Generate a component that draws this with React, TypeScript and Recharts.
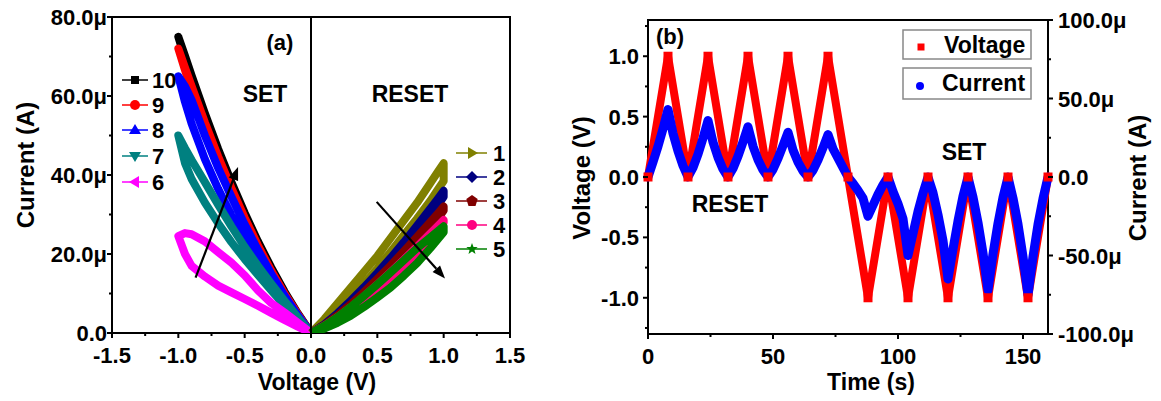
import React from 'react';
import { LineChart, Line, XAxis, YAxis, ReferenceLine, ReferenceArea } from 'recharts';

const FONT = '"Liberation Sans", Arial, Helvetica, sans-serif';

// ---------- Panel (a): I-V sweeps ----------
const sweepGrid = [0, 0.1, 0.2, 0.3, 0.4, 0.5, 0.6, 0.7, 0.8, 0.9, 0.95, 1.0];

// SET cycles (negative voltage), current magnitude in µA
const c10Fwd = [0, 4.3, 9.5, 15.5, 22, 29, 36.8, 45.2, 54.3, 64.2, 69.5, 75];
const c10Ret = [0, 5, 10.5, 16.6, 23.2, 30.4, 38.2, 46.6, 55.6, 65.2, 70.2, 75];
const c9Fwd = [0, 4, 9, 14.8, 21, 27.7, 35, 43, 51.8, 61.5, 66.6, 72];
const c9Ret = [0, 4.8, 10, 15.8, 22.2, 29.2, 36.7, 44.7, 53.3, 62.5, 67.2, 72];
const c8Fwd = [0, 3.5, 7.8, 12.5, 17.8, 23.5, 29.8, 36.5, 44, 53, 58.5, 65];
const c8Ret = [0, 4.5, 9.5, 15, 21, 27.5, 34.5, 41.8, 50, 59, 62.5, 65];
const c7Fwd = [0, 3.4, 7, 10.8, 14.7, 18.7, 23, 27.8, 33, 39, 43, 50];
const c7Ret = [0, 4, 8.2, 12.5, 17, 21.8, 27, 32.5, 38.2, 43.8, 46.8, 50];
const c6Fwd = [0, 1.6, 3.3, 5.1, 6.9, 8.6, 10.3, 12, 14.3, 17, 20, 24.5];
const c6Ret = [0, 2.6, 5.2, 7.6, 10.8, 14.6, 17.8, 20.5, 23.2, 25, 25.3, 24.5];

// RESET cycles (positive voltage)
const c1Fwd = [0, 3.5, 7.5, 11.5, 15.5, 19.5, 24, 28.5, 33, 38, 40.5, 43];
const c1Ret = [0, 2.5, 5.5, 8.8, 12.4, 16.3, 20.5, 24.8, 29, 33.5, 36, 38.5];
const c2Fwd = [0, 2.2, 5, 8.2, 11.6, 15.2, 19, 23, 27.2, 31.5, 33.7, 36];
const c2Ret = [0, 1.9, 4.2, 6.9, 10, 13.4, 17, 20.8, 25, 29.5, 32, 34.5];
const c3Fwd = [0, 2, 4.5, 7.3, 10.4, 13.7, 17.1, 20.7, 24.4, 28.1, 30, 32];
const c3Ret = [0, 1.6, 3.6, 6, 8.7, 11.7, 14.9, 18.4, 22.2, 26.3, 28.6, 31];
const c4Fwd = [0, 1.8, 4, 6.5, 9.3, 12.3, 15.4, 18.6, 21.9, 25.2, 26.9, 28.6];
const c4Ret = [0, 1.3, 3, 5, 7.3, 9.9, 12.8, 16, 19.5, 23.5, 25.7, 28];
const c5Fwd = [0, 1.8, 4, 6.6, 9.4, 12.3, 15.3, 18.4, 21.5, 24.2, 25.6, 27];
const c5Ret = [0, 1.1, 2.6, 4.4, 6.6, 9, 11.5, 14.5, 17.7, 21.5, 23.5, 25.5];

const X_A_TICKS = [-1.5, -1.25, -1, -0.75, -0.5, -0.25, 0, 0.25, 0.5, 0.75, 1, 1.25, 1.5];
const X_A_MAJOR = [-1.5, -1, -0.5, 0, 0.5, 1, 1.5];
const Y_A_TICKS = [0, 10, 20, 30, 40, 50, 60, 70, 80];
const Y_A_MAJOR = [0, 20, 40, 60, 80];

// ---------- Panel (b): time traces ----------
const voltTime = [0, 8, 16, 24, 32, 40, 48, 56, 64, 72, 80, 88, 96, 104, 112, 120, 128, 136, 144, 152, 160];
const voltValues = [0, 1, 0, 1, 0, 1, 0, 1, 0, 1, 0, -1, 0, -1, 0, -1, 0, -1, 0, -1, 0];
const currTime = [
  0, 2, 4, 6, 8, 10, 12, 14, 16, 18, 20, 22, 24, 26, 28, 30, 32, 34, 36, 38, 40,
  42, 44, 46, 48, 50, 52, 54, 56, 58, 60, 62, 64, 66, 68, 70, 72, 74, 76, 78, 80,
  82, 84, 86, 88, 90, 92, 94, 96, 98, 100, 102, 104, 106, 108, 110, 112, 114, 116, 118, 120,
  122, 124, 126, 128, 130, 132, 134, 136, 138, 140, 142, 144, 146, 148, 150, 152, 154, 156, 158, 160,
];
const currValues = [
  0, 9.5, 19.5, 30.7, 43, 27.7, 16.5, 7.2, 0,
  6, 14.5, 24.7, 36, 22.2, 12.5, 5, 0,
  5.4, 13.2, 22.3, 32, 19.6, 11, 4.5, 0,
  4.8, 11.8, 20, 28.5, 17.2, 9.5, 3.8, 0,
  4.3, 10.8, 18.6, 27, 18, 12, 6, 0,
  -4, -8.5, -13.5, -25, -18, -11, -5, 0,
  -9.2, -17, -26.5, -50, -36, -22, -10.2, 0,
  -10, -24, -40.5, -65, -46, -28, -12.2, 0,
  -12.8, -29, -48.5, -72, -49, -29.5, -13, 0,
  -13.5, -30, -50.7, -75, -50.7, -30.2, -13.7, 0,
];

const X_B_TICKS = [0, 25, 50, 75, 100, 125, 150];
const X_B_MAJOR = [0, 50, 100, 150];
const YL_B_TICKS = [-1.25, -1, -0.75, -0.5, -0.25, 0, 0.25, 0.5, 0.75, 1, 1.25];
const YL_B_MAJOR = [-1, -0.5, 0, 0.5, 1];
const YR_B_TICKS = [-100, -75, -50, -25, 0, 25, 50, 75, 100];
const YR_B_MAJOR = [-100, -50, 0, 50, 100];

// ---------- helpers ----------
function buildLoop(fwd: number[], ret: number[], sign: number) {
  const out = sweepGrid.map((g, k) => ({ v: sign * g, i: fwd[k] }));
  for (let k = sweepGrid.length - 1; k >= 0; k--) out.push({ v: sign * sweepGrid[k], i: ret[k] });
  return out;
}

const curves = [
  { name: '10', data: buildLoop(c10Fwd, c10Ret, -1), color: '#000000', shape: 'square' },
  { name: '9', data: buildLoop(c9Fwd, c9Ret, -1), color: '#ff0000', shape: 'circle' },
  { name: '8', data: buildLoop(c8Fwd, c8Ret, -1), color: '#0000ff', shape: 'up' },
  { name: '7', data: buildLoop(c7Fwd, c7Ret, -1), color: '#008080', shape: 'down' },
  { name: '6', data: buildLoop(c6Fwd, c6Ret, -1), color: '#ff00ff', shape: 'left' },
  { name: '1', data: buildLoop(c1Fwd, c1Ret, 1), color: '#808000', shape: 'right' },
  { name: '2', data: buildLoop(c2Fwd, c2Ret, 1), color: '#000080', shape: 'diamond' },
  { name: '3', data: buildLoop(c3Fwd, c3Ret, 1), color: '#800000', shape: 'pentagon' },
  { name: '4', data: buildLoop(c4Fwd, c4Ret, 1), color: '#ff0080', shape: 'circle' },
  { name: '5', data: buildLoop(c5Fwd, c5Ret, 1), color: '#008000', shape: 'star' },
];

const voltData = voltTime.map((t, k) => ({ t, v: voltValues[k] }));
const currData = currTime.map((t, k) => ({ t, c: currValues[k] }));

const isIn = (arr: number[], v: number) => arr.some((m) => Math.abs(m - v) < 1e-6);
const fmt1 = (v: number) => (Math.abs(v) < 1e-9 ? '0.0' : v.toFixed(1));
const fmtMicro = (v: number) => (Math.abs(v) < 1e-9 ? '0.0' : `${v.toFixed(1)}μ`);
const fmtInt = (v: number) => `${Math.round(v)}`;

const txt = { fontFamily: FONT, fontWeight: 'bold' as const, fill: '#000' };

function makeTick(orient: 'bottom' | 'left' | 'right', majors: number[], fmt: (v: number) => string, gap: number) {
  return (props: any) => {
    const { x, y, payload } = props;
    const v = payload.value;
    const major = isIn(majors, v);
    const len = major ? 5 : 3;
    if (orient === 'bottom') {
      return (
        <g>
          <line x1={x} x2={x} y1={y} y2={y + len} stroke="#000" strokeWidth={2} />
          {major && (
            <text x={x} y={y + 30} textAnchor="middle" fontSize={22} {...txt}>
              {fmt(v)}
            </text>
          )}
        </g>
      );
    }
    if (orient === 'left') {
      return (
        <g>
          <line x1={x} x2={x - len} y1={y} y2={y} stroke="#000" strokeWidth={2} />
          {major && (
            <text x={x - gap} y={y + 8} textAnchor="end" fontSize={22} {...txt}>
              {fmt(v)}
            </text>
          )}
        </g>
      );
    }
    return (
      <g>
        <line x1={x} x2={x + len} y1={y} y2={y} stroke="#000" strokeWidth={2} />
        {major && (
          <text x={x + gap} y={y + 8} textAnchor="start" fontSize={22} {...txt}>
            {fmt(v)}
          </text>
        )}
      </g>
    );
  };
}

const Arrow = (props: any) => {
  const { x1, y1, x2, y2 } = props;
  const ang = Math.atan2(y2 - y1, x2 - x1);
  const L = 13;
  const W = 5;
  const bx = x2 - L * Math.cos(ang);
  const by = y2 - L * Math.sin(ang);
  const px = -Math.sin(ang) * W;
  const py = Math.cos(ang) * W;
  return (
    <g>
      <line x1={x1} y1={y1} x2={bx} y2={by} stroke="#000" strokeWidth={2.2} />
      <polygon points={`${x2},${y2} ${bx + px},${by + py} ${bx - px},${by - py}`} fill="#000" />
    </g>
  );
};

const SquareDot = (p: any) => (
  <rect key={`sq-${p.index}`} x={p.cx - 4.5} y={p.cy - 4.5} width={9} height={9} fill="#ff0000" />
);

function Marker({ shape, x, y, color }: { shape: string; x: number; y: number; color: string }) {
  const pts = (arr: number[][]) => arr.map(([a, b]) => `${x + a},${y + b}`).join(' ');
  switch (shape) {
    case 'square':
      return <rect x={x - 4} y={y - 4} width={8} height={8} fill={color} />;
    case 'circle':
      return <circle cx={x} cy={y} r={5} fill={color} />;
    case 'up':
      return <polygon points={pts([[0, -6], [6, 4], [-6, 4]])} fill={color} />;
    case 'down':
      return <polygon points={pts([[0, 6], [6, -4], [-6, -4]])} fill={color} />;
    case 'left':
      return <polygon points={pts([[-6, 0], [4, -6], [4, 6]])} fill={color} />;
    case 'right':
      return <polygon points={pts([[6, 0], [-4, -6], [-4, 6]])} fill={color} />;
    case 'diamond':
      return <polygon points={pts([[0, -6], [6, 0], [0, 6], [-6, 0]])} fill={color} />;
    case 'pentagon':
      return <polygon points={pts([[0, -6], [5.7, -1.9], [3.5, 4.9], [-3.5, 4.9], [-5.7, -1.9]])} fill={color} />;
    case 'star':
      return (
        <polygon
          points={pts([[0, -6], [1.5, -2], [5.7, -1.9], [2.4, 0.8], [3.5, 4.9], [0, 2.5], [-3.5, 4.9], [-2.4, 0.8], [-5.7, -1.9], [-1.5, -2]])}
          fill={color}
        />
      );
    default:
      return null;
  }
}

const legendLeftY = [80, 105, 130, 156, 182];
const legendRightY = [153, 177, 201, 225, 249];

function PanelA() {
  return (
    <LineChart width={545} height={401} margin={{ top: 17, right: 35, bottom: 0, left: 0 }}>
      <XAxis
        xAxisId="b"
        dataKey="v"
        type="number"
        domain={[-1.5, 1.5]}
        ticks={X_A_TICKS}
        interval={0}
        allowDataOverflow
        height={68}
        tickSize={0}
        tickMargin={0}
        tickLine={false}
        axisLine={false}
        tick={makeTick('bottom', X_A_MAJOR, fmt1, 0)}
      />
      <YAxis
        yAxisId="l"
        type="number"
        domain={[0, 80]}
        ticks={Y_A_TICKS}
        interval={0}
        allowDataOverflow
        width={112}
        tickSize={0}
        tickMargin={0}
        tickLine={false}
        axisLine={false}
        tick={makeTick('left', Y_A_MAJOR, fmtMicro, 5)}
      />
      {curves.map((c) => (
        <Line
          key={c.name}
          xAxisId="b"
          yAxisId="l"
          data={c.data}
          dataKey="i"
          type="linear"
          stroke={c.color}
          strokeWidth={8}
          strokeLinejoin="round"
          dot={false}
          activeDot={false}
          isAnimationActive={false}
        />
      ))}
      <ReferenceLine xAxisId="b" yAxisId="l" x={0} stroke="#000" strokeWidth={2} />
      <ReferenceLine
        xAxisId="b"
        yAxisId="l"
        segment={[{ x: -0.87, y: 14 }, { x: -0.55, y: 42 }]}
        shape={Arrow}
      />
      <ReferenceLine
        xAxisId="b"
        yAxisId="l"
        segment={[{ x: 0.495, y: 33.2 }, { x: 1.01, y: 13.8 }]}
        shape={Arrow}
      />
      <ReferenceArea
        xAxisId="b"
        yAxisId="l"
        x1={-1.5}
        x2={1.5}
        y1={0}
        y2={80}
        fill="none"
        fillOpacity={0}
        stroke="#000"
        strokeWidth={2}
        ifOverflow="visible"
      />
    </LineChart>
  );
}

function PanelB() {
  return (
    <LineChart width={601} height={401} margin={{ top: 20, right: 0, bottom: 0, left: 0 }}>
      <XAxis
        xAxisId="t"
        dataKey="t"
        type="number"
        domain={[0, 160]}
        ticks={X_B_TICKS}
        interval={0}
        height={67}
        tickSize={0}
        tickMargin={0}
        tickLine={false}
        axisLine={false}
        tick={makeTick('bottom', X_B_MAJOR, fmtInt, 0)}
      />
      <YAxis
        yAxisId="v"
        type="number"
        domain={[-1.3, 1.3]}
        ticks={YL_B_TICKS}
        interval={0}
        width={88}
        tickSize={0}
        tickMargin={0}
        tickLine={false}
        axisLine={false}
        tick={makeTick('left', YL_B_MAJOR, fmt1, 9)}
      />
      <YAxis
        yAxisId="c"
        orientation="right"
        type="number"
        domain={[-100, 100]}
        ticks={YR_B_TICKS}
        interval={0}
        width={113}
        tickSize={0}
        tickMargin={0}
        tickLine={false}
        axisLine={false}
        tick={makeTick('right', YR_B_MAJOR, fmtMicro, 10)}
      />
      <Line
        xAxisId="t"
        yAxisId="v"
        data={voltData}
        dataKey="v"
        type="linear"
        stroke="#ff0000"
        strokeWidth={8}
        strokeLinejoin="bevel"
        dot={SquareDot}
        activeDot={false}
        isAnimationActive={false}
      />
      <Line
        xAxisId="t"
        yAxisId="c"
        data={currData}
        dataKey="c"
        type="linear"
        stroke="#0000ff"
        strokeWidth={9}
        strokeLinejoin="round"
        strokeLinecap="round"
        dot={false}
        activeDot={false}
        isAnimationActive={false}
      />
      <ReferenceArea
        xAxisId="t"
        yAxisId="v"
        x1={0}
        x2={160}
        y1={-1.3}
        y2={1.3}
        fill="none"
        fillOpacity={0}
        stroke="#000"
        strokeWidth={2}
        ifOverflow="visible"
      />
    </LineChart>
  );
}

function Overlay() {
  return (
    <svg width={1161} height={401} style={{ position: 'absolute', left: 0, top: 0, pointerEvents: 'none' }}>
      {/* Panel (a) texts */}
      <text transform="translate(34,165) rotate(-90)" textAnchor="middle" fontSize={24} {...txt}>
        Current (A)
      </text>
      <text x={317} y={390} textAnchor="middle" fontSize={23} {...txt}>
        Voltage (V)
      </text>
      <text x={280} y={50} textAnchor="middle" fontSize={22} {...txt}>
        (a)
      </text>
      <text x={265} y={102} textAnchor="middle" fontSize={23} {...txt}>
        SET
      </text>
      <text x={410} y={102} textAnchor="middle" fontSize={23} {...txt}>
        RESET
      </text>
      {curves.slice(0, 5).map((c, k) => (
        <g key={`la-${c.name}`}>
          <line x1={122} x2={148} y1={legendLeftY[k]} y2={legendLeftY[k]} stroke={c.color} strokeWidth={1.5} />
          <Marker shape={c.shape} x={135} y={legendLeftY[k]} color={c.color} />
          <text x={152} y={legendLeftY[k] + 8} fontSize={22} {...txt}>
            {c.name}
          </text>
        </g>
      ))}
      {curves.slice(5).map((c, k) => (
        <g key={`lb-${c.name}`}>
          <line x1={456} x2={487} y1={legendRightY[k]} y2={legendRightY[k]} stroke={c.color} strokeWidth={1.5} />
          <Marker shape={c.shape} x={472} y={legendRightY[k]} color={c.color} />
          <text x={493} y={legendRightY[k] + 8} fontSize={22} {...txt}>
            {c.name}
          </text>
        </g>
      ))}

      {/* Panel (b) texts */}
      <text transform="translate(590,178) rotate(-90)" textAnchor="middle" fontSize={24} {...txt}>
        Voltage (V)
      </text>
      <text transform="translate(1146,178) rotate(-90)" textAnchor="middle" fontSize={24} {...txt}>
        Current (A)
      </text>
      <text x={871} y={390} textAnchor="middle" fontSize={23} {...txt}>
        Time (s)
      </text>
      <text x={670} y={44} textAnchor="middle" fontSize={22} {...txt}>
        (b)
      </text>
      <text x={964} y={160} textAnchor="middle" fontSize={23} {...txt}>
        SET
      </text>
      <text x={730} y={212} textAnchor="middle" fontSize={23} {...txt}>
        RESET
      </text>
      <rect x={903} y={30} width={128} height={29} fill="#fff" stroke="#888" strokeWidth={1.5} />
      <rect x={917.5} y={43.5} width={7} height={7} fill="#ff0000" />
      <text x={944} y={53} fontSize={23} {...txt}>
        Voltage
      </text>
      <rect x={903} y={68} width={128} height={31} fill="#fff" stroke="#888" strokeWidth={1.5} />
      <circle cx={920} cy={86} r={4} fill="#0000ff" />
      <text x={942} y={91} fontSize={23} {...txt}>
        Current
      </text>
    </svg>
  );
}

export default function App() {
  return (
    <div
      style={{
        position: 'absolute',
        left: 0,
        top: 0,
        width: 1161,
        height: 401,
        background: '#fff',
        overflow: 'hidden',
        fontFamily: FONT,
      }}
    >
      <div style={{ position: 'absolute', left: 0, top: 0 }}>
        <PanelA />
      </div>
      <div style={{ position: 'absolute', left: 560, top: 0 }}>
        <PanelB />
      </div>
      <Overlay />
    </div>
  );
}
